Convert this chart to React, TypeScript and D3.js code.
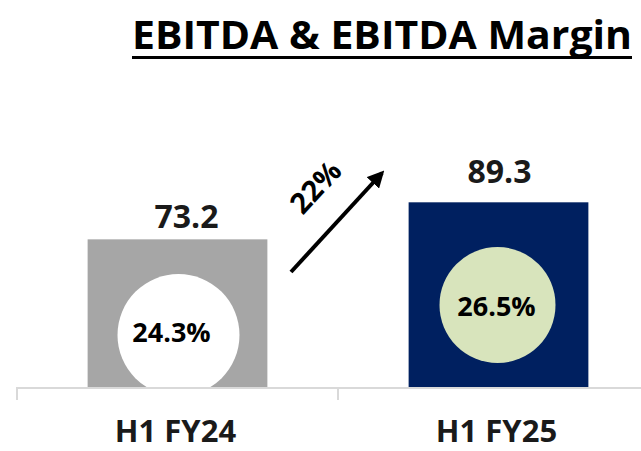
import React from "react";
import * as d3 from "d3";

const categories = ["H1 FY24", "H1 FY25"];
const ebitda = [73.2, 89.3];
const margins = ["24.3%", "26.5%"];
const growthLabel = "22%";
const title = "EBITDA & EBITDA Margin";

const W = 641;
const H = 451;
const FONT = "'Open Sans', Carlito, Calibri, sans-serif";

export default function App() {
  const x = d3.scaleBand<string>().domain(categories).range([17, 659]).padding(0);
  const y = d3.scaleLinear().domain([9, 100]).range([387, 177.7]);
  const barW = x.bandwidth() * 0.56;
  const barFill = ["#A6A6A6", "#002060"];
  const circleFill = ["#FFFFFF", "#D8E4BC"];
  const circleR = [61, 58];
  const circleCy = [335, 305];
  const circleDx = [1, -1];
  const pctDx = [-6, -2];
  const pctDy = [7, 11];
  const valDx = [9, 1];
  const valDy = [-11, -19];

  const base = y(9);

  return (
    <svg width={W} height={H} style={{ position: "absolute", left: 0, top: 0, background: "#fff" }}>
      <defs>
        {categories.map((c, i) => {
          const bx = (x(c) as number) + x.bandwidth() / 2 - barW / 2;
          return (
            <clipPath id={`clip${i}`} key={c}>
              <rect x={bx} y={y(ebitda[i])} width={barW} height={base - y(ebitda[i])} />
            </clipPath>
          );
        })}
        <marker id="ah" viewBox="0 0 10 10" refX="8" refY="5" markerWidth="4.2" markerHeight="4.2" orient="auto">
          <path d="M0,0 L10,5 L0,10 z" fill="#000" />
        </marker>
      </defs>

      {/* title */}
      <text x={132} y={49} fontFamily={FONT} fontWeight="bold" fontSize={39} textLength={500} lengthAdjust="spacingAndGlyphs" fill="#000">
        {title}
      </text>
      <rect x={132} y={56} width={500} height={3} fill="#000" />

      {/* bars */}
      {categories.map((c, i) => {
        const cx = (x(c) as number) + x.bandwidth() / 2;
        const bx = cx - barW / 2;
        return (
          <g key={c}>
            <rect x={bx} y={y(ebitda[i])} width={barW} height={base - y(ebitda[i])} fill={barFill[i]} />
            <circle cx={cx + circleDx[i]} cy={circleCy[i]} r={circleR[i]} fill={circleFill[i]} clipPath={`url(#clip${i})`} />
            <text x={cx + pctDx[i]} y={circleCy[i] + pctDy[i]} textAnchor="middle" fontFamily={FONT} fontWeight="bold" fontSize={27} fill="#000">
              {margins[i]}
            </text>
            <text x={cx + valDx[i]} y={y(ebitda[i]) + valDy[i]} textAnchor="middle" fontFamily={FONT} fontWeight="bold" fontSize={32} fill="#1a1a1a">
              {ebitda[i].toFixed(1)}
            </text>
            <text x={cx - 2} y={442} textAnchor="middle" fontFamily={FONT} fontWeight="bold" fontSize={31} fill="#1a1a1a">
              {c}
            </text>
          </g>
        );
      })}

      {/* axis */}
      <line x1={17} x2={641} y1={388} y2={388} stroke="#D9D9D9" strokeWidth={2} />
      {categories.map((c) => x(c) as number).map((tx, i) => (
        <line key={i} x1={tx} x2={tx} y1={387} y2={400} stroke="#D9D9D9" strokeWidth={2} />
      ))}

      {/* growth arrow */}
      <line x1={291} y1={272} x2={382} y2={173} stroke="#000" strokeWidth={4} markerEnd="url(#ah)" />
      <text
        transform="translate(323,194) rotate(-47)"
        textAnchor="middle"
        fontFamily={FONT}
        fontWeight="bold"
        fontSize={29}
        fill="#000"
      >
        {growthLabel}
      </text>
    </svg>
  );
}
